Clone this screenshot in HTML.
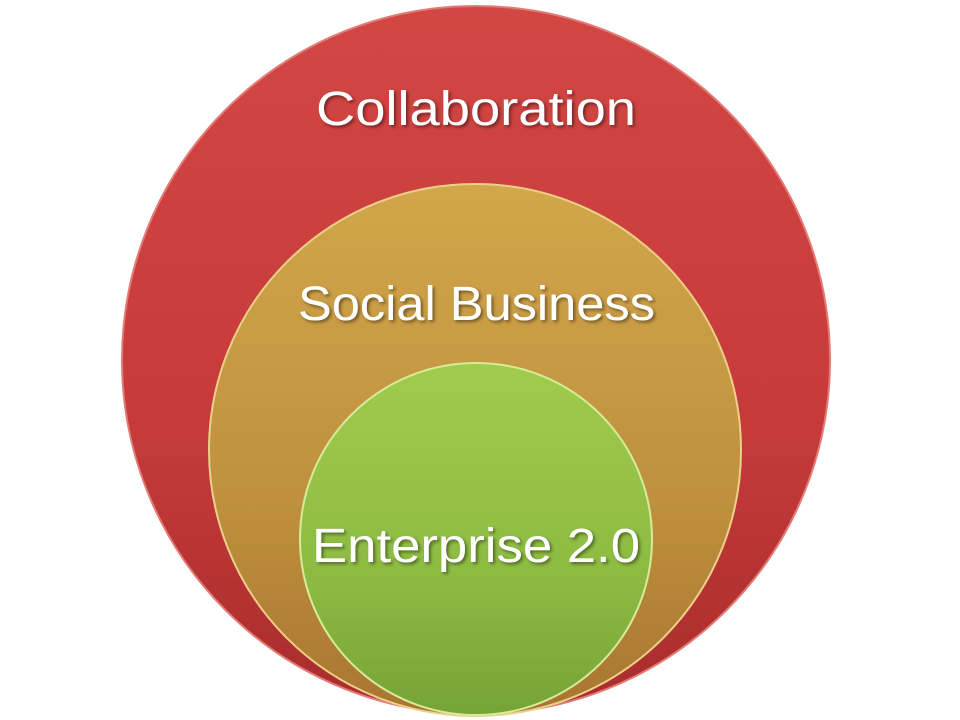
<!DOCTYPE html>
<html><head><meta charset="utf-8"><style>html,body{margin:0;padding:0;background:#fff;}svg{display:block}</style></head>
<body>
<svg width="960" height="720" viewBox="0 0 960 720" xmlns="http://www.w3.org/2000/svg">
<defs>
<linearGradient id="r" x1="0" y1="0" x2="0" y2="1"><stop offset="0" stop-color="#d24643"/><stop offset="0.6" stop-color="#c63a3a"/><stop offset="1" stop-color="#a82c2c"/></linearGradient>
<linearGradient id="o" x1="0" y1="0" x2="0" y2="1"><stop offset="0" stop-color="#d2a64a"/><stop offset="0.6" stop-color="#bf903e"/><stop offset="1" stop-color="#a87530"/></linearGradient>
<linearGradient id="g" x1="0" y1="0" x2="0" y2="1"><stop offset="0" stop-color="#a0cb4c"/><stop offset="0.6" stop-color="#8dbb42"/><stop offset="1" stop-color="#76a336"/></linearGradient>
<filter id="s" x="-5%" y="-20%" width="110%" height="140%"><feDropShadow dx="2" dy="2" stdDeviation="1.5" flood-color="#000" flood-opacity="0.45"/></filter>
</defs>
<circle cx="476" cy="360" r="354" fill="url(#r)" stroke="#e27a76" stroke-width="2"/>
<circle cx="475" cy="450" r="266" fill="url(#o)" stroke="#ecd08a" stroke-width="2"/>
<circle cx="476" cy="539" r="176" fill="url(#g)" stroke="#d6ec9a" stroke-width="2"/>
<g font-family="'Liberation Sans', sans-serif" fill="#fff" font-size="48" text-anchor="start" filter="url(#s)">
<text x="316" y="125" textLength="320" lengthAdjust="spacingAndGlyphs">Collaboration</text>
<text x="298" y="320" textLength="357" lengthAdjust="spacingAndGlyphs">Social Business</text>
<text x="312" y="562" textLength="328" lengthAdjust="spacingAndGlyphs">Enterprise 2.0</text>
</g>
</svg>
</body></html>
